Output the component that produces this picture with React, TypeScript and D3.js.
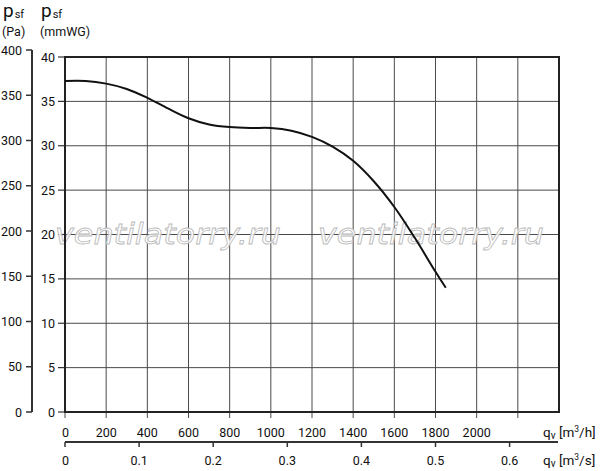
import { useEffect, useRef } from "react";
import * as d3 from "d3";

// fan curve, flow in m3/h, static pressure in mmWG
const flowM3h = [0, 100, 200, 300, 400, 500, 600, 700, 800, 900, 1000, 1100, 1200, 1300, 1400, 1500, 1600, 1700, 1800, 1850];
const pressureMmWG = [37.3, 37.3, 37.0, 36.4, 35.4, 34.2, 33.1, 32.4, 32.1, 32.0, 32.0, 31.7, 31.0, 29.9, 28.3, 26.0, 23.1, 19.6, 15.8, 14.0];

const m3hTicks = [0, 200, 400, 600, 800, 1000, 1200, 1400, 1600, 1800, 2000, 2200];
const m3hLabels = [0, 200, 400, 600, 800, 1000, 1200, 1400, 1600, 1800, 2000];
const m3sTicks = [0, 0.1, 0.2, 0.3, 0.4, 0.5, 0.6];
const mmTicks = [0, 5, 10, 15, 20, 25, 30, 35, 40];
const paTicks = [0, 50, 100, 150, 200, 250, 300, 350, 400];
const watermarks = ["ventilatorry.ru", "ventilatorry.ru"];

const FONT = "Roboto, 'DejaVu Sans', sans-serif";

export default function App() {
  const svgRef = useRef<SVGSVGElement>(null);

  useEffect(() => {
    if (!svgRef.current) return;
    const svg = d3.select(svgRef.current);
    svg.selectAll("*").remove();

    const left = 65, right = 559, top = 57, bottom = 412;

    const x = d3.scaleLinear().domain([0, 2400]).range([left, right]);
    const xs = d3.scaleLinear().domain([0, 2400 / 3600]).range([left, right]);
    const y = d3.scaleLinear().domain([0, 40]).range([bottom, top]);
    const yPa = d3.scaleLinear().domain([0, 40 * 9.80665]).range([bottom, top]);

    svg.append("rect").attr("width", 600).attr("height", 471).attr("fill", "#fff");

    // grid
    const grid = svg.append("g").attr("stroke", "#4a4a4a").attr("stroke-width", 1);
    m3hTicks.slice(1).forEach((t) => {
      grid.append("line")
        .attr("x1", x(t)).attr("x2", x(t))
        .attr("y1", top).attr("y2", bottom + 6);
    });
    grid.append("line").attr("x1", left).attr("x2", left).attr("y1", bottom).attr("y2", bottom + 6);
    mmTicks.slice(1, -1).forEach((t) => {
      grid.append("line")
        .attr("x1", left).attr("x2", right)
        .attr("y1", y(t)).attr("y2", y(t));
    });

    // mmWG ticks + labels
    mmTicks.forEach((t) => {
      svg.append("line")
        .attr("x1", left - 7).attr("x2", left)
        .attr("y1", y(t)).attr("y2", y(t))
        .attr("stroke", "#333").attr("stroke-width", 1.2);
      svg.append("text")
        .attr("x", 55).attr("y", y(t)).attr("dy", "0.36em")
        .attr("text-anchor", "end").attr("font-size", 12.5).attr("fill", "#111")
        .attr("font-family", FONT)
        .text(t);
    });

    // Pa axis
    svg.append("line")
      .attr("x1", 32).attr("x2", 32).attr("y1", yPa(400)).attr("y2", yPa(0))
      .attr("stroke", "#333").attr("stroke-width", 2);
    paTicks.forEach((t) => {
      svg.append("line")
        .attr("x1", 26).attr("x2", 32)
        .attr("y1", yPa(t)).attr("y2", yPa(t))
        .attr("stroke", "#333").attr("stroke-width", 1.5);
      svg.append("text")
        .attr("x", 22).attr("y", yPa(t)).attr("dy", "0.36em")
        .attr("text-anchor", "end").attr("font-size", 12.5).attr("fill", "#111")
        .attr("font-family", FONT)
        .text(t);
    });

    // watermarks
    watermarks.forEach((w, i) => {
      svg.append("text")
        .attr("x", i === 0 ? 55 : 318).attr("y", 244)
        .attr("font-size", 28).attr("font-style", "italic")
        .attr("font-family", "'DejaVu Sans', sans-serif")
        .attr("textLength", 226).attr("lengthAdjust", "spacingAndGlyphs")
        .attr("fill", "#fff").attr("fill-opacity", 0.85)
        .attr("stroke", "#bbb").attr("stroke-width", 0.8)
        .text(w);
    });

    // frame
    svg.append("rect")
      .attr("x", left).attr("y", top)
      .attr("width", right - left).attr("height", bottom - top)
      .attr("fill", "none").attr("stroke", "#222").attr("stroke-width", 2);

    // curve
    const pts: [number, number][] = flowM3h.map((q, i) => [q, pressureMmWG[i]]);
    const line = d3.line<[number, number]>()
      .x((d) => x(d[0]))
      .y((d) => y(d[1]))
      .curve(d3.curveCatmullRom.alpha(0.5));
    svg.append("path")
      .attr("d", line(pts))
      .attr("fill", "none").attr("stroke", "#111").attr("stroke-width", 2);

    // m3/h labels
    m3hLabels.forEach((t) => {
      svg.append("text")
        .attr("x", x(t)).attr("y", 432).attr("dy", "0.36em")
        .attr("text-anchor", t === 0 ? "start" : "middle")
        .attr("dx", t === 0 ? -3 : 0)
        .attr("font-size", 12.5).attr("fill", "#111").attr("font-family", FONT)
        .text(t);
    });

    // m3/s axis
    svg.append("line")
      .attr("x1", left).attr("x2", right - 1).attr("y1", 442).attr("y2", 442)
      .attr("stroke", "#333").attr("stroke-width", 2);
    m3sTicks.forEach((t) => {
      svg.append("line")
        .attr("x1", xs(t)).attr("x2", xs(t)).attr("y1", 442).attr("y2", 447)
        .attr("stroke", "#333").attr("stroke-width", 1.5);
      svg.append("text")
        .attr("x", xs(t)).attr("y", 460).attr("dy", "0.36em")
        .attr("text-anchor", t === 0 ? "start" : "middle")
        .attr("dx", t === 0 ? -3 : 0)
        .attr("font-size", 12.5).attr("fill", "#111").attr("font-family", FONT)
        .text(t);
    });

    // unit labels
    const unit = (yy: number, u: string) => {
      const t = svg.append("text")
        .attr("x", 543).attr("y", yy).attr("dy", "0.36em")
        .attr("font-size", 13.5).attr("fill", "#111").attr("font-family", FONT);
      t.append("tspan").text("q");
      t.append("tspan").attr("font-size", 10).attr("dy", 2).text("v");
      t.append("tspan").attr("dy", -2).text(" [m");
      t.append("tspan").attr("font-size", 8.5).attr("dy", -5).text("3");
      t.append("tspan").attr("dy", 5).text(u + "]");
    };
    unit(432, "/h");
    unit(460, "/s");

    // header labels
    const head = (xx: number, unitText: string) => {
      const t = svg.append("text")
        .attr("x", xx).attr("y", 17)
        .attr("font-size", 19).attr("fill", "#111").attr("font-family", FONT);
      t.append("tspan").text("p");
      t.append("tspan").attr("font-size", 11).attr("dx", 1).attr("dy", 1).text("sf");
      svg.append("text")
        .attr("x", xx - 1).attr("y", 36)
        .attr("font-size", 12.5).attr("fill", "#111").attr("font-family", FONT)
        .text(unitText);
    };
    head(3, "(Pa)");
    head(41, "(mmWG)");
  }, []);

  return (
    <svg
      ref={svgRef}
      width={600}
      height={471}
      style={{ position: "absolute", left: 0, top: 0 }}
    />
  );
}
